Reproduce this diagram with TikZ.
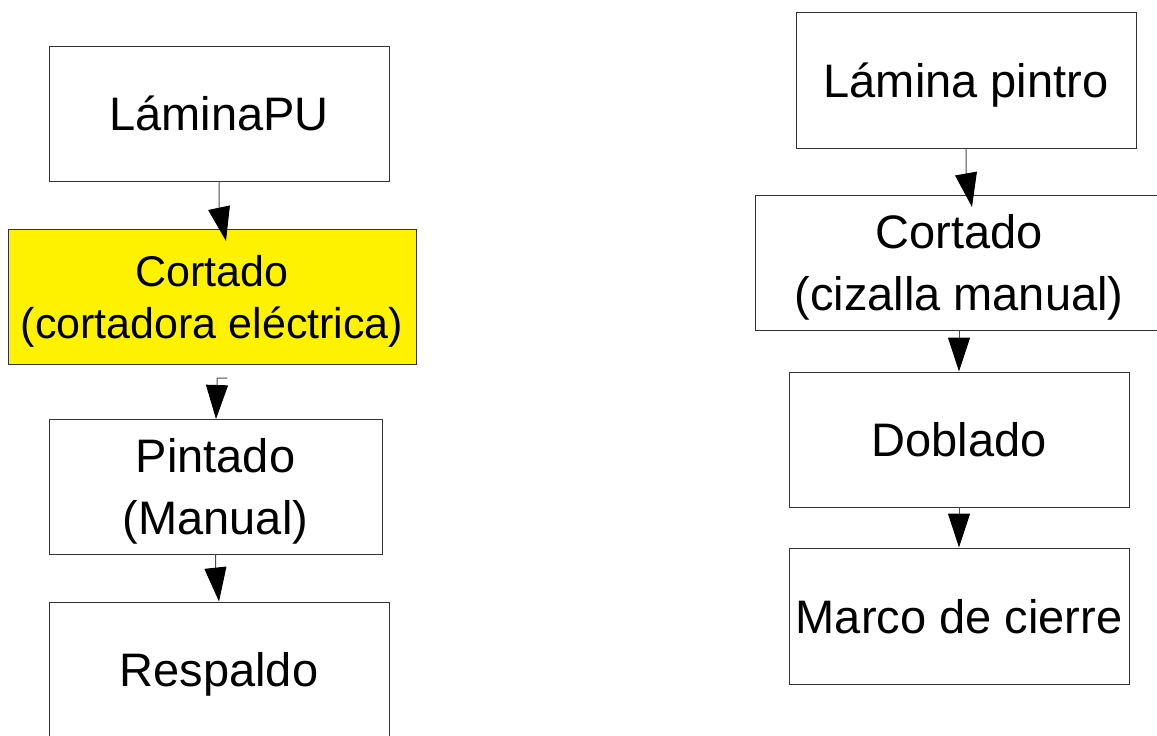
\documentclass[tikz,border=0pt]{standalone}
\usepackage{fontspec}
\setmainfont{Liberation Sans}
\usetikzlibrary{arrows.meta}
\begin{document}
\begin{tikzpicture}[x=1pt,y=-1pt,
  box/.style={draw=black!80, line width=1pt, inner sep=0pt, align=center,
    text depth=0pt, minimum height=135pt, font=\fontsize{47}{62}\selectfont},
  conn/.style={draw=black!70, line width=1pt,
    -{Triangle[width=22pt,length=34pt,fill=black,color=black]}}]
\useasboundingbox (0,0) rectangle (1157,736);
% left column
\node[box, minimum width=340pt] (a1) at (219,113.5) {LáminaPU};
\node[box, minimum width=408pt, fill=yellow, font=\fontsize{43}{52}\selectfont] (a2) at (212,296.5) {Cortado\\(cortadora eléctrica)};
\node[box, minimum width=333pt] (a3) at (215.5,486.5) {Pintado\\(Manual)};
\node[box, minimum width=340pt] (a4) at (219,669.5) {Respaldo};
% right column
\node[box, minimum width=340pt, minimum height=136pt] (b1) at (966,80) {Lámina pintro};
\node[box, minimum width=408pt] (b2) at (959,262.5) {Cortado\\(cizalla manual)};
\node[box, minimum width=340pt] (b3) at (959,439.5) {Doblado};
\node[box, minimum width=340pt, minimum height=136pt] (b4) at (959,616) {Marco de cierre};
% connector free ends
\coordinate (t1) at (226,241);
\coordinate (s2) at (227,378);
\coordinate (t2) at (216,419);
\coordinate (u1) at (972,207);
% connectors
\draw[conn] (a1.south) -- ++(0,26) -- (t1);
\draw[conn] (s2) -- (217,378) -- (217,385) -- (t2);
\draw[conn] (a3.south) -- ++(0,14) -- (a4.north);
\draw[conn] (b1.south) -- ++(0,25) -- (u1);
\draw[conn] (b2.south) -- ++(0,7) -- (b3.north);
\draw[conn] (b3.south) -- ++(0,7) -- (b4.north);
\end{tikzpicture}
\end{document}
